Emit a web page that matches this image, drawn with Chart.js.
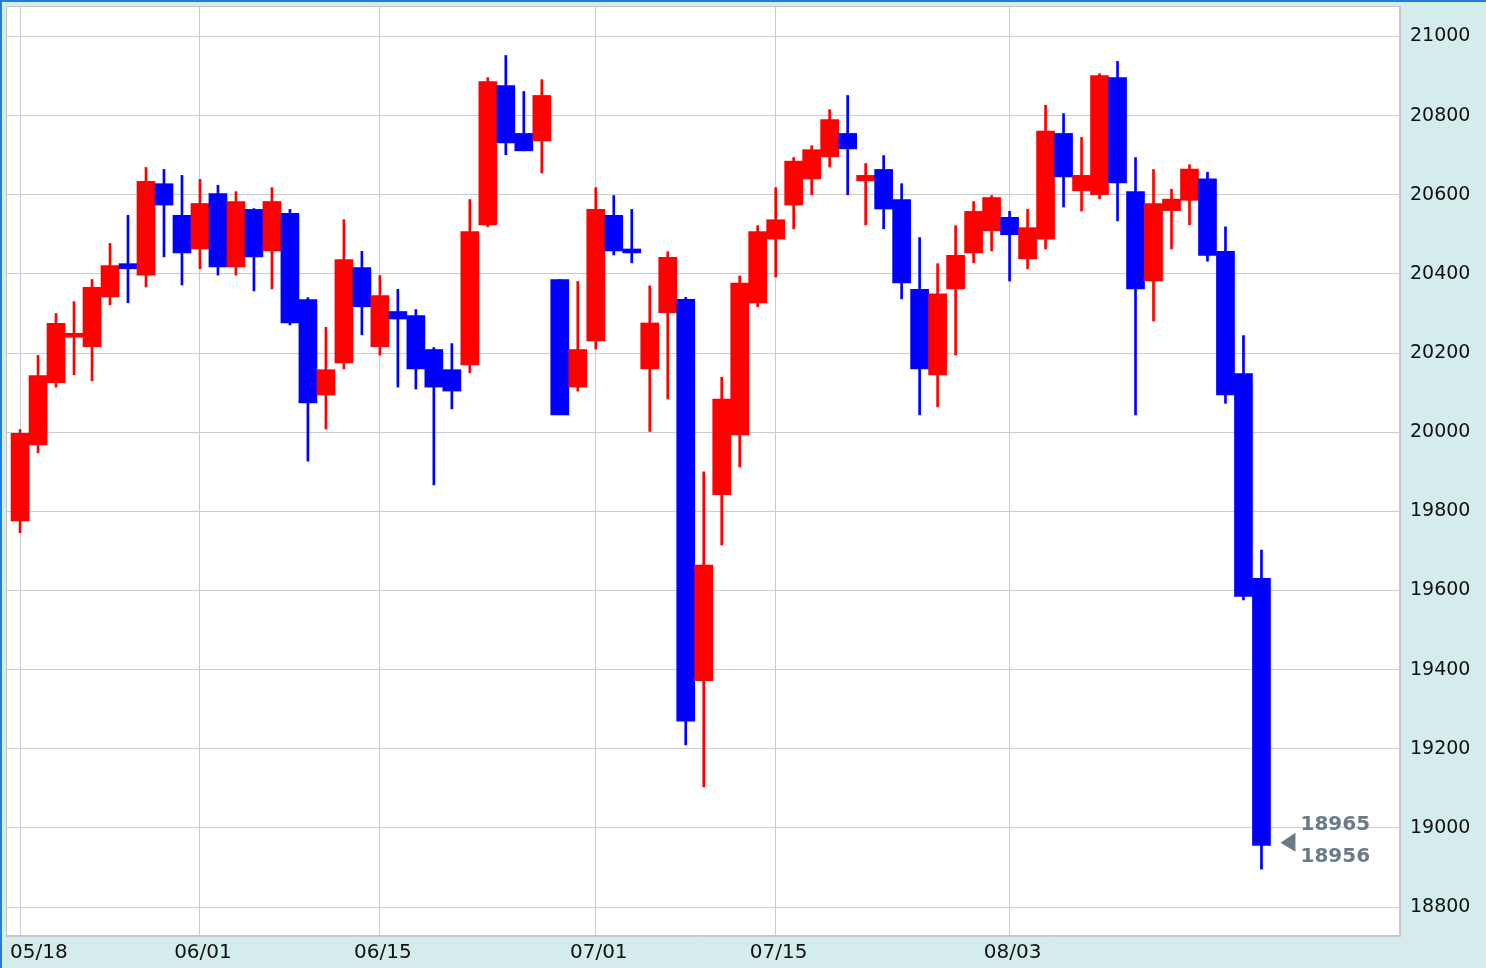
<!DOCTYPE html>
<html>
<head>
<meta charset="utf-8">
<title>Candlestick chart</title>
<script src="https://cdn.jsdelivr.net/npm/chart.js@4.4.1/dist/chart.umd.min.js"></script>
<style>
  html, body { margin: 0; padding: 0; background: #d4ecec; }
  canvas { display: block; }
</style>
</head>
<body>
<canvas id="priceChart" width="1486" height="968"></canvas>
<script>
// Daily candles (trading dates)
const dates = [
  "05/18", "05/19", "05/20", "05/21", "05/22", "05/25", "05/26", "05/27", "05/28", "05/29",
  "06/01", "06/02", "06/03", "06/04", "06/05", "06/08", "06/09", "06/10", "06/11", "06/12",
  "06/15", "06/16", "06/17", "06/18", "06/19", "06/22", "06/23", "06/24", "06/25", "06/26",
  "06/29", "06/30", "07/01", "07/02", "07/03", "07/06", "07/07", "07/08", "07/09", "07/10",
  "07/13", "07/14", "07/15", "07/16", "07/17", "07/20", "07/21", "07/22", "07/23", "07/24",
  "07/27", "07/28", "07/29", "07/30", "07/31", "08/03", "08/04", "08/05", "08/06", "08/07",
  "08/10", "08/11", "08/12", "08/13", "08/14", "08/17", "08/18", "08/19", "08/20", "08/21",
];

const openPrices = [
  19776, 19968, 20125, 20240, 20216, 20342, 20426, 20397, 20628, 20548,
  20463, 20603, 20418, 20563, 20458, 20553, 20335, 20094, 20175, 20416,
  20216, 20305, 20295, 20209, 20158, 20170, 20524, 20876, 20755, 20736,
  20386, 20114, 20231, 20548, 20463, 20160, 20302, 20336, 19372, 19842,
  19993, 20327, 20488, 20574, 20640, 20696, 20755, 20635, 20664, 20588,
  20361, 20145, 20362, 20453, 20509, 20543, 20438, 20488, 20755, 20610,
  20600, 20896, 20608, 20382, 20560, 20586, 20640, 20457, 20148, 19631,
];

const highPrices = [
  20007, 20194, 20300, 20330, 20386, 20477, 20548, 20669, 20664, 20649,
  20639, 20624, 20608, 20565, 20618, 20563, 20340, 20265, 20537, 20457,
  20396, 20361, 20310, 20214, 20224, 20588, 20896, 20952, 20861, 20891,
  20386, 20381, 20618, 20598, 20563, 20370, 20456, 20341, 19900, 20139,
  20395, 20522, 20618, 20694, 20724, 20815, 20851, 20679, 20699, 20628,
  20492, 20426, 20522, 20583, 20598, 20558, 20563, 20826, 20805, 20745,
  20906, 20937, 20694, 20664, 20614, 20676, 20657, 20519, 20244, 19702,
];

const lowPrices = [
  19746, 19948, 20114, 20145, 20130, 20322, 20327, 20367, 20443, 20372,
  20413, 20397, 20397, 20357, 20362, 20271, 19927, 20008, 20160, 20246,
  20195, 20114, 20109, 19867, 20059, 20150, 20519, 20701, 20711, 20655,
  20044, 20104, 20210, 20448, 20428, 20002, 20084, 19210, 19104, 19715,
  19912, 20317, 20392, 20514, 20600, 20670, 20600, 20524, 20514, 20337,
  20044, 20064, 20195, 20428, 20458, 20382, 20413, 20463, 20569, 20559,
  20590, 20534, 20044, 20281, 20463, 20524, 20432, 20073, 19576, 18896,
];

const closePrices = [
  19997, 20143, 20275, 20250, 20366, 20421, 20413, 20634, 20574, 20453,
  20578, 20418, 20583, 20443, 20583, 20276, 20074, 20158, 20436, 20317,
  20345, 20286, 20160, 20114, 20104, 20507, 20886, 20731, 20711, 20851,
  20044, 20209, 20563, 20458, 20453, 20276, 20442, 19270, 19664, 20084,
  20377, 20507, 20537, 20685, 20714, 20790, 20716, 20649, 20564, 20377,
  20160, 20350, 20447, 20558, 20593, 20499, 20517, 20761, 20645, 20649,
  20901, 20630, 20362, 20578, 20589, 20665, 20447, 20094, 19585, 18956,
];

// Axis labels
const dateTicks = ["05/18", "06/01", "06/15", "07/01", "07/15", "08/03"];
const priceTicks = [18800, 19000, 19200, 19400, 19600, 19800, 20000, 20200, 20400, 20600, 20800, 21000];

// Latest quotes shown next to the last candle
const lastQuotes = [18965, 18956];

const UP_COLOR = "#ff0000";
const DOWN_COLOR = "#0000ff";
const GRID_COLOR = "#cccccc";
const FONT = "DejaVu Sans";

// Build floating bar data: bodies (open/close) and wicks (low/high)
const bodyData = dates.map((d, i) => ({ x: i, y: [openPrices[i], closePrices[i]] }));
const wickData = dates.map((d, i) => ({ x: i, y: [lowPrices[i], highPrices[i]] }));
const candleColors = dates.map((d, i) =>
  closePrices[i] >= openPrices[i] ? UP_COLOR : DOWN_COLOR
);

// Background, frame, date labels and last price marker
const framePlugin = {
  id: "frame",
  beforeDraw(chart) {
    const { ctx, chartArea: a, width, height } = chart;
    ctx.save();
    ctx.fillStyle = "#d4ecec";
    ctx.fillRect(0, 0, width, height);
    ctx.fillStyle = "#1b7fe3";
    ctx.fillRect(0, 0, width, 2);
    ctx.fillRect(0, 0, 2, height);
    ctx.fillStyle = "#ffffff";
    ctx.fillRect(a.left, a.top, a.right - a.left, a.bottom - a.top);
    ctx.restore();
  },
  afterDraw(chart) {
    const { ctx, chartArea: a } = chart;
    const xScale = chart.scales.x;
    const yScale = chart.scales.y;
    ctx.save();

    // Plot border
    ctx.strokeStyle = "#c8c8c8";
    ctx.lineWidth = 1;
    ctx.strokeRect(Math.round(a.left) + 0.5, Math.round(a.top) + 0.5,
      Math.round(a.right - a.left) - 1, Math.round(a.bottom - a.top) - 1);

    // Date labels under the plot
    ctx.font = "20px '" + FONT + "'";
    ctx.fillStyle = "#111111";
    ctx.textBaseline = "middle";
    ctx.textAlign = "left";
    dateTicks.forEach((label) => {
      const px = xScale.getPixelForValue(dates.indexOf(label)) + 3;
      const w = ctx.measureText(label).width;
      const left = Math.max(10, px - w / 2);
      ctx.fillText(label, left, a.bottom + 17);
    });

    // Last price marker
    const last = dates.length - 1;
    const lx = xScale.getPixelForValue(last);
    const ly = yScale.getPixelForValue(lastQuotes[0]);
    ctx.fillStyle = "#6b7a89";
    ctx.beginPath();
    ctx.moveTo(lx + 19, ly + 1);
    ctx.lineTo(lx + 34, ly - 9);
    ctx.lineTo(lx + 34, ly + 10);
    ctx.closePath();
    ctx.fill();
    ctx.font = "bold 20px '" + FONT + "'";
    ctx.fillText(String(lastQuotes[0]), lx + 39, ly - 17);
    ctx.fillText(String(lastQuotes[1]), lx + 39, ly + 15);

    ctx.restore();
  },
};

const priceCtx = document.getElementById("priceChart").getContext("2d");
const priceChart = new Chart(priceCtx, {
  type: "bar",
  data: {
    datasets: [
      {
        label: "Body",
        data: bodyData,
        backgroundColor: candleColors,
        barThickness: 18,
        grouped: false,
        borderWidth: 0,
      },
      {
        label: "Wick",
        data: wickData,
        backgroundColor: candleColors,
        barThickness: 2,
        grouped: false,
        borderWidth: 0,
      },
    ],
  },
  options: {
    responsive: false,
    animation: false,
    devicePixelRatio: 1,
    events: [],
    layout: {
      padding: { top: 6, left: 6, bottom: 32, right: 0 },
    },
    plugins: {
      legend: { display: false },
      tooltip: { enabled: false },
    },
    scales: {
      x: {
        type: "linear",
        offset: false,
        min: -0.78,
        max: 76.7,
        afterBuildTicks: (scale) => {
          scale.ticks = dateTicks.map((t) => ({ value: dates.indexOf(t) }));
        },
        afterFit: (scale) => {
          scale.paddingLeft = 0;
          scale.paddingRight = 0;
        },
        ticks: { display: false },
        grid: { color: GRID_COLOR, drawTicks: false, offset: false },
        border: { color: "#c8c8c8" },
      },
      y: {
        position: "right",
        min: 18727,
        max: 21077,
        afterBuildTicks: (scale) => {
          scale.ticks = priceTicks.map((v) => ({ value: v }));
        },
        afterFit: (scale) => {
          scale.width = 86;
          scale.paddingTop = 0;
          scale.paddingBottom = 0;
        },
        ticks: {
          padding: 10,
          color: "#111111",
          font: { family: FONT, size: 19 },
          callback: (v) => String(v),
        },
        grid: { color: GRID_COLOR, drawTicks: false },
        border: { color: "#c8c8c8" },
      },
    },
  },
  plugins: [framePlugin],
});
</script>
</body>
</html>
